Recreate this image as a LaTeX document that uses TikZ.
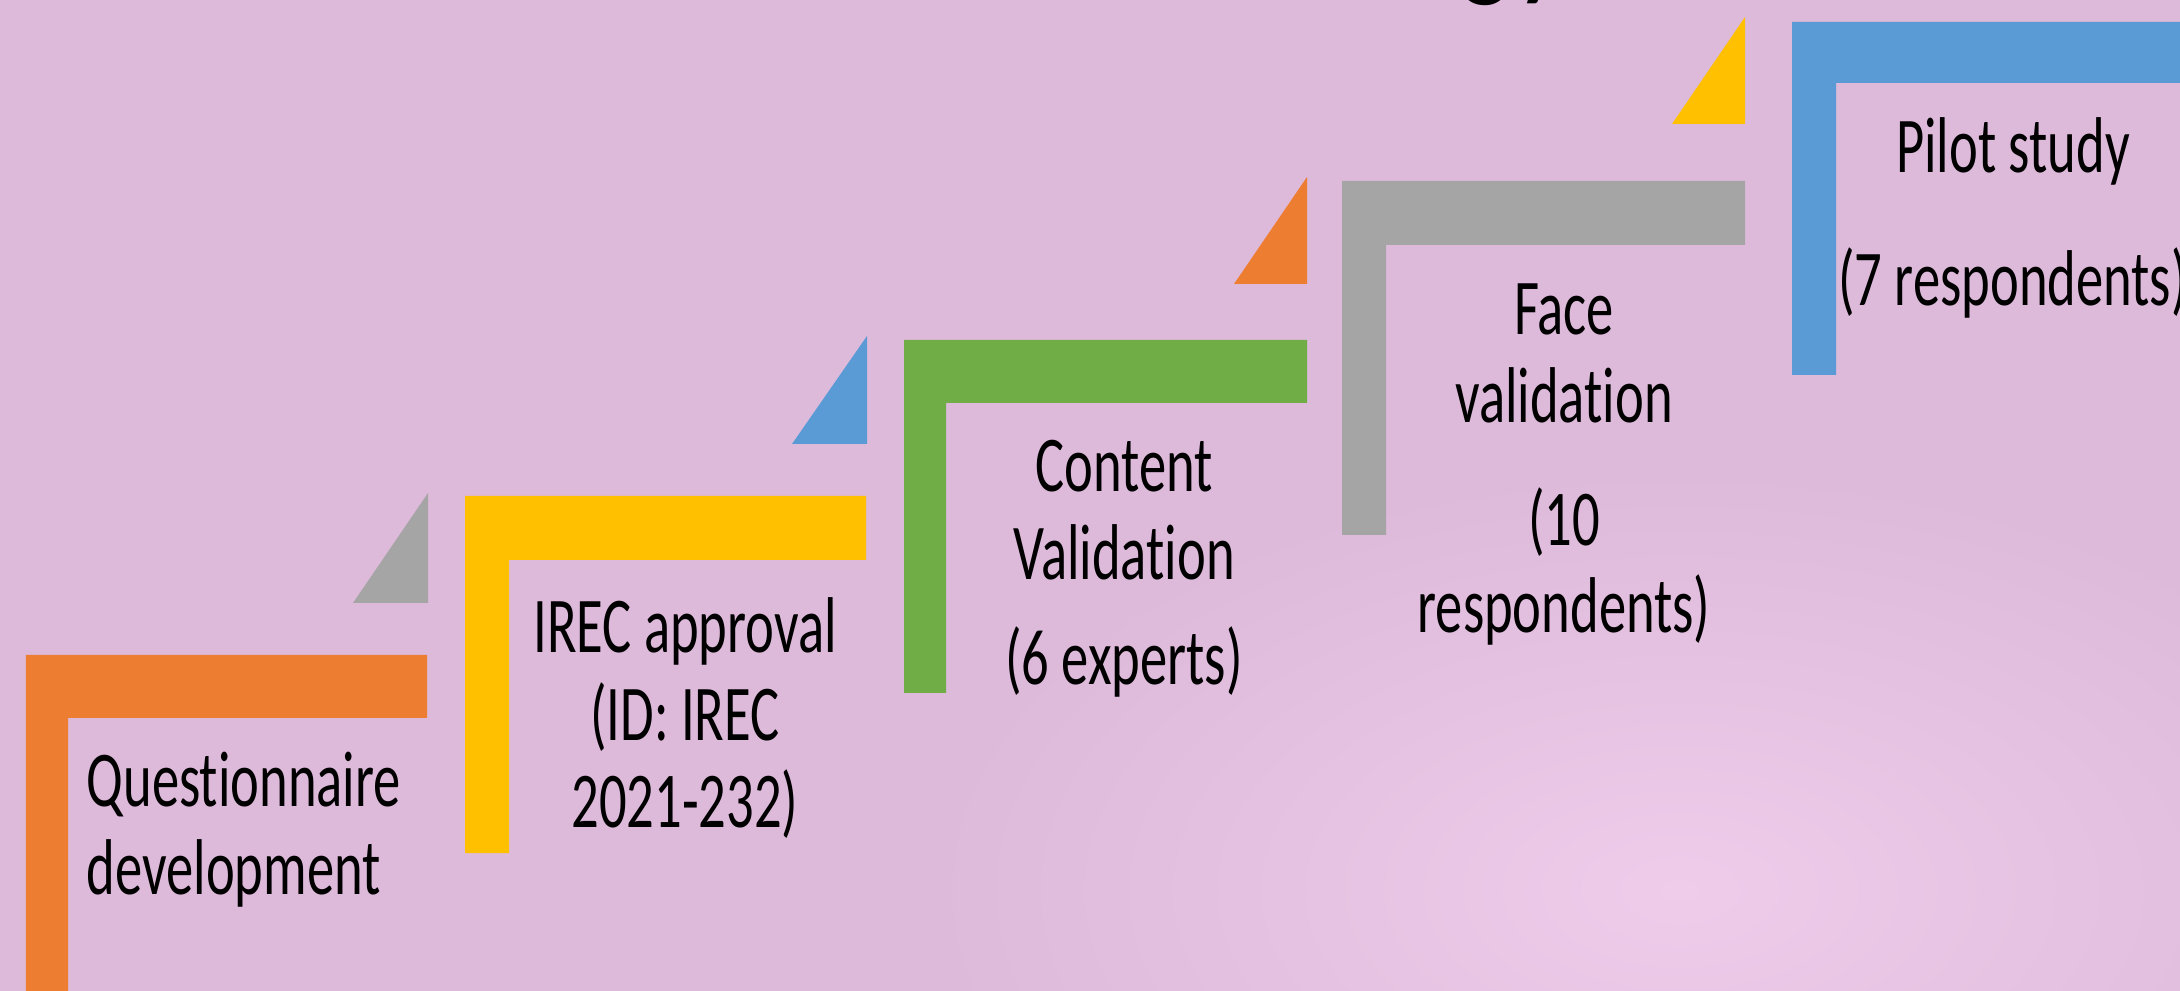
\documentclass[tikz,border=0pt]{standalone}
\usepackage{fontspec}
\setmainfont{Carlito}[FakeStretch=0.69, Ligatures=NoCommon]
\usepackage{tikz}
\usepackage[usenames]{xcolor}

\definecolor{bgpink}{HTML}{DDB9DA}
\definecolor{bglight}{HTML}{F0CCEB}
\definecolor{stepor}{HTML}{ED7D31}
\definecolor{stepye}{HTML}{FFC000}
\definecolor{stepgr}{HTML}{70AD47}
\definecolor{stepgy}{HTML}{A5A5A5}
\definecolor{stepbl}{HTML}{5B9BD5}

\tikzset{
  steptext/.style={font=\fontsize{22.5}{25}\selectfont, align=center, inner sep=0pt, anchor=base},
}

\begin{document}
\begin{tikzpicture}[line cap=round,line join=round,x=1.0cm,y=1.0cm]
\useasboundingbox (0,0) rectangle (21.8,9.9);
% background
\fill[bgpink] (-0.2,-0.2) rectangle (22,10.1);
\shade[inner color=bglight, outer color=bgpink] (16.8,1.0) ellipse (7.5 and 4.2);
% title, cut off at the top
\node[font=\fontsize{50}{60}\selectfont, anchor=base east, inner sep=0pt] (title) at (15.7,10.14) {Methodology};
% steps
\fill[stepor] (0.26,3.35) -- (4.27,3.35) -- (4.27,2.72) -- (0.68,2.72) -- (0.68,-0.2) -- (0.26,-0.2) -- cycle;
\fill[stepye] (4.65,4.94) -- (8.66,4.94) -- (8.66,4.30) -- (5.09,4.30) -- (5.09,1.37) -- (4.65,1.37) -- cycle;
\fill[stepgr] (9.04,6.50) -- (13.07,6.50) -- (13.07,5.87) -- (9.46,5.87) -- (9.46,2.97) -- (9.04,2.97) -- cycle;
\fill[stepgy] (13.42,8.09) -- (17.45,8.09) -- (17.45,7.45) -- (13.86,7.45) -- (13.86,4.55) -- (13.42,4.55) -- cycle;
\fill[stepbl] (17.92,9.68) -- (22.0,9.68) -- (22.0,9.07) -- (18.36,9.07) -- (18.36,6.15) -- (17.92,6.15) -- cycle;
% corner triangles
\fill[stepgy] (3.53,3.87) -- (4.28,3.87) -- (4.28,4.97) -- cycle;
\fill[stepbl] (7.92,5.46) -- (8.67,5.46) -- (8.67,6.54) -- cycle;
\fill[stepor] (12.34,7.06) -- (13.07,7.06) -- (13.07,8.13) -- cycle;
\fill[stepye] (16.72,8.66) -- (17.45,8.66) -- (17.45,9.73) -- cycle;
% labels (base = last line)
\node[steptext, anchor=base west, align=left] (quest) at (0.86,0.96) {Questionnaire\\development};
\node[steptext] (irec) at (6.85,1.62) {IREC approval\\(ID: IREC\\2021-232)};
\node[steptext] (content) at (11.24,3.05) {Content\\Validation\\[5pt](6 experts)};
\node[steptext] (face) at (15.64,3.57) {Face\\validation\\[10pt](10\\respondents)};
\node[steptext] (pilot) at (20.13,6.84) {Pilot study\\[13pt](7 respondents)};
\end{tikzpicture}
\end{document}
